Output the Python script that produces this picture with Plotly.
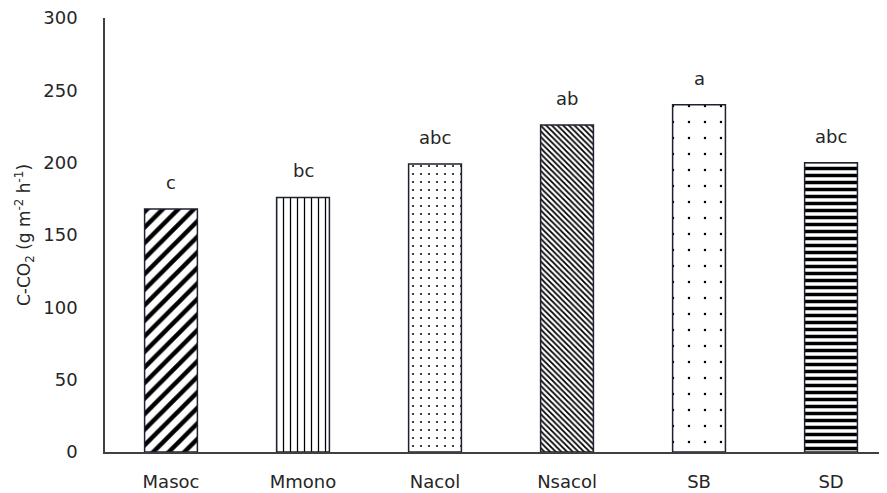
import plotly.graph_objects as go

categories = ["Masoc", "Mmono", "Nacol", "Nsacol", "SB", "SD"]
values = [168, 176, 199, 226, 240, 200]
letters = ["c", "bc", "abc", "ab", "a", "abc"]
y_ticks = [0, 50, 100, 150, 200, 250, 300]

shapes = ["/", "|", ".", "\\", ".", "-"]
sizes = [11, 7, 8, 4, 16, 7]
solids = [0.4, 0.18, 0.05, 0.45, 0.02, 0.5]

font = "DejaVu Sans, sans-serif"

fig = go.Figure()
fig.add_trace(go.Bar(
    x=categories, y=values, width=0.4,
    marker=dict(
        color="white",
        line=dict(color="#1c2230", width=1.5),
        pattern=dict(shape=shapes, size=sizes, solidity=solids,
                     fgcolor="black", bgcolor="white", fgopacity=1,
                     fillmode="replace"),
    ),
    showlegend=False,
))

for c, v, t in zip(categories, values, letters):
    fig.add_annotation(x=c, y=v, text=t, showarrow=False, yanchor="bottom",
                       yshift=14, font=dict(size=18, color="#262626", family=font))

# figure is shifted by the page's 8px body margin, so compensate
fig.update_layout(
    width=879, height=485,
    margin=dict(l=97, r=0, t=10, b=41, autoexpand=False),
    paper_bgcolor="white", plot_bgcolor="white",
    font=dict(family=font, size=18, color="#262626"),
)
fig.update_xaxes(
    range=[-0.5, 5.424], showline=True, linecolor="#404040", linewidth=1.5,
    ticks="", showgrid=False, ticklabelstandoff=13, automargin=False,
    tickfont=dict(size=18),
)
fig.update_yaxes(
    range=[0, 300], tickvals=y_ticks, showline=True, linecolor="#404040",
    linewidth=1.5, ticks="", showgrid=False, zeroline=False, automargin=False,
    ticklabelstandoff=22, tickfont=dict(size=18), ticklabeloverflow="allow",
    title=dict(text="C-CO<sub>2</sub> (g m<sup>-2</sup> h<sup>-1</sup>)",
               font=dict(size=17), standoff=8),
)
fig.write_html("out.html")
